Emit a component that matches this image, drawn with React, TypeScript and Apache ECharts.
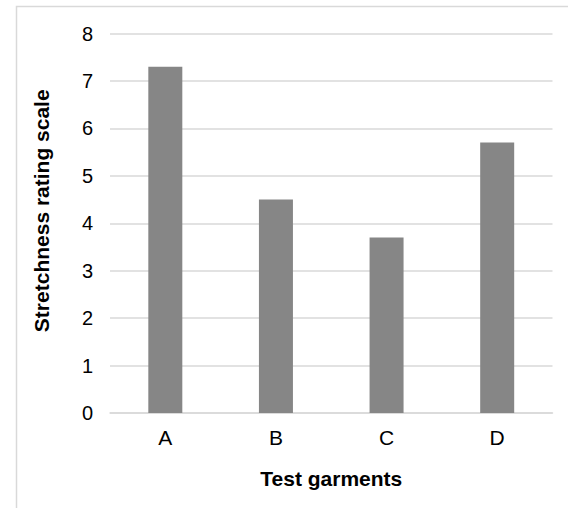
import React, { useEffect, useRef } from "react";
import * as echarts from "echarts";

const categories = ["A", "B", "C", "D"];
const values = [7.3, 4.5, 3.7, 5.7];
const yTicks = { min: 0, max: 8, interval: 1 };
const xAxisName = "Test garments";
const yAxisName = "Stretchness rating scale";

export default function App() {
  const ref = useRef<HTMLDivElement>(null);
  useEffect(() => {
    if (!ref.current) return;
    const chart = echarts.init(ref.current, null, { renderer: "svg" });
    const font = "'Liberation Sans', Arial, sans-serif";
    chart.setOption({
      animation: false,
      backgroundColor: "#ffffff",
      graphic: [
        {
          type: "rect",
          shape: { x: 16.5, y: 6.5, width: 600, height: 600 },
          style: { fill: "none", stroke: "#d9d9d9", lineWidth: 1.5 },
          silent: true,
        },
      ],
      grid: { left: 110, right: 15.5, top: 33.5, bottom: 95, containLabel: false },
      xAxis: {
        type: "category",
        data: categories,
        axisLine: { show: true, lineStyle: { color: "#d9d9d9", width: 1.5 } },
        axisTick: { show: false },
        axisLabel: { color: "#000", fontSize: 21, fontFamily: font, margin: 14 },
        name: xAxisName,
        nameLocation: "middle",
        nameGap: 55,
        nameTextStyle: { color: "#000", fontSize: 21, fontWeight: "bold", fontFamily: font },
      },
      yAxis: {
        type: "value",
        min: yTicks.min,
        max: yTicks.max,
        interval: yTicks.interval,
        axisLine: { show: false },
        axisTick: { show: false },
        splitLine: { lineStyle: { color: "#d9d9d9", width: 1.5 } },
        axisLabel: { color: "#000", fontSize: 20, fontFamily: font, margin: 17 },
        name: yAxisName,
        nameLocation: "middle",
        nameGap: 58,
        nameTextStyle: {
          color: "#000",
          fontSize: 21,
          fontWeight: "bold",
          fontFamily: font,
          padding: [0, 0, 0, 25],
        },
      },
      series: [
        {
          type: "bar",
          data: values,
          barWidth: 34,
          itemStyle: { color: "#868686" },
        },
      ],
    });
    return () => chart.dispose();
  }, []);
  return (
    <div
      ref={ref}
      style={{ position: "fixed", left: 0, top: 0, width: 568, height: 508 }}
    />
  );
}
